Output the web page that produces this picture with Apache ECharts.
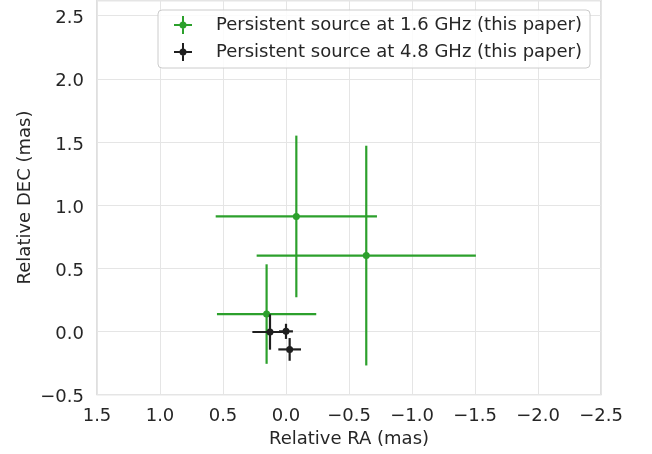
<!DOCTYPE html>
<html>
<head>
<meta charset="utf-8">
<script src="https://cdn.jsdelivr.net/npm/echarts@6/dist/echarts.min.js"></script>
<style>
html,body{margin:0;padding:0;background:#fff;}
#chart{width:652px;height:454px;}
</style>
</head>
<body>
<div id="chart"></div>
<script>
// ---- data ----
const seriesNames = ['Persistent source at 1.6 GHz (this paper)', 'Persistent source at 4.8 GHz (this paper)'];
const greenRA = [-0.082, -0.637, 0.154];
const greenDEC = [0.91, 0.60, 0.137];
const greenRAErr = [0.64, 0.87, 0.394];
const greenDECErr = [0.64, 0.87, 0.394];
const blackRA = [0.127, 0.0, -0.029];
const blackDEC = [-0.005, 0.0, -0.143];
const blackRAErr = [0.14, 0.055, 0.09];
const blackDECErr = [0.14, 0.06, 0.09];
const xTicks = [1.5, 1.0, 0.5, 0.0, -0.5, -1.0, -1.5, -2.0, -2.5];
const yTicks = [-0.5, 0.0, 0.5, 1.0, 1.5, 2.0, 2.5];

const FONT = 'DejaVu Sans';
const TXT = '#262626';
const fmt = v => (v < -1e-9 ? '\u2212' + Math.abs(v).toFixed(1) : Math.abs(v).toFixed(1));

function build(ra, dec, ex, ey) {
  return ra.map((x, i) => [x, dec[i], ex[i], ey[i]]);
}
function errRender(color) {
  return function (params, api) {
    const x = api.value(0), y = api.value(1), ex = api.value(2), ey = api.value(3);
    const c = api.coord([x, y]);
    const l = api.coord([x + ex, y]);
    const r = api.coord([x - ex, y]);
    const t = api.coord([x, y + ey]);
    const b = api.coord([x, y - ey]);
    const st = { stroke: color, lineWidth: 2.2 };
    return {
      type: 'group',
      children: [
        { type: 'line', shape: { x1: l[0], y1: l[1], x2: r[0], y2: r[1] }, style: st },
        { type: 'line', shape: { x1: t[0], y1: t[1], x2: b[0], y2: b[1] }, style: st },
        { type: 'circle', shape: { cx: c[0], cy: c[1], r: 3.5 }, style: { fill: color } }
      ]
    };
  };
}
const GREEN = '#2ca02c';
const BLACK = '#1f1f1f';
const plusIcon = 'path://M0,8H18V10H0Z M8,0H10V18H8Z M9,5.5A3.5,3.5 0 1,1 9,12.5A3.5,3.5 0 1,1 9,5.5Z';

const chart = echarts.init(document.getElementById('chart'), null, { renderer: 'canvas' });
chart.setOption({
  animation: false,
  backgroundColor: '#fff',
  textStyle: { fontFamily: FONT },
  grid: { left: 97, right: 51, top: 0.5, bottom: 59.5, show: true, borderColor: '#cccccc', borderWidth: 1.25, backgroundColor: 'transparent' },
  legend: {
    orient: 'vertical',
    left: 158, top: 10,
    padding: [6, 8, 7, 16],
    itemWidth: 18, itemHeight: 18, itemGap: 9,
    backgroundColor: 'rgba(255,255,255,0.85)',
    borderColor: '#cccccc', borderWidth: 1, borderRadius: 4,
    textStyle: { fontFamily: FONT, fontSize: 18, color: TXT, padding: [0, 0, 0, 19] },
    data: seriesNames.map(n => ({ name: n, icon: plusIcon }))
  },
  xAxis: {
    type: 'value', inverse: true,
    min: xTicks[xTicks.length - 1], max: xTicks[0], interval: 0.5,
    name: 'Relative RA (mas)', nameLocation: 'middle', nameGap: 36,
    nameTextStyle: { fontFamily: FONT, fontSize: 18, color: TXT },
    axisLine: { show: false }, axisTick: { show: false },
    axisLabel: { fontFamily: FONT, fontSize: 18, color: TXT, margin: 13, formatter: fmt },
    splitLine: { show: true, lineStyle: { color: '#e5e5e5', width: 1 } }
  },
  yAxis: {
    type: 'value',
    min: yTicks[0], max: 2.62, interval: 0.5,
    name: 'Relative DEC (mas)', nameLocation: 'middle', nameGap: 63, nameMoveOverlap: false,
    nameTextStyle: { fontFamily: FONT, fontSize: 18, color: TXT },
    axisLine: { show: false }, axisTick: { show: false },
    axisLabel: {
      fontFamily: FONT, fontSize: 18, color: TXT, margin: 13, showMaxLabel: false,
      formatter: v => '{v|' + fmt(v) + '}',
      rich: { v: { fontFamily: FONT, fontSize: 18, color: TXT, padding: [6, 0, 0, 0] } }
    },
    splitLine: { show: true, lineStyle: { color: '#e5e5e5', width: 1 } }
  },
  series: [
    {
      name: seriesNames[0], type: 'custom', itemStyle: { color: GREEN },
      renderItem: errRender(GREEN), encode: { x: 0, y: 1 },
      data: build(greenRA, greenDEC, greenRAErr, greenDECErr), z: 2
    },
    {
      name: seriesNames[1], type: 'custom', itemStyle: { color: BLACK },
      renderItem: errRender(BLACK), encode: { x: 0, y: 1 },
      data: build(blackRA, blackDEC, blackRAErr, blackDECErr), z: 3
    }
  ]
});
</script>
</body>
</html>
